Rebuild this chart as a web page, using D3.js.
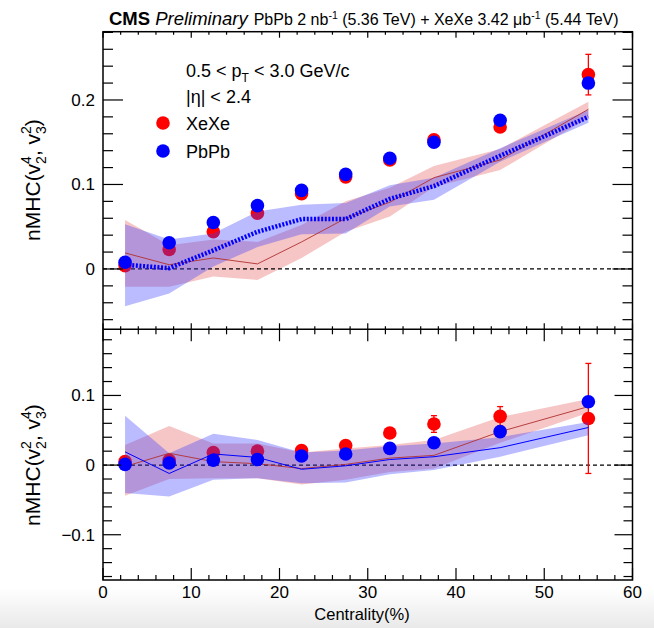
<!DOCTYPE html>
<html><head><meta charset="utf-8">
<script src="https://cdn.jsdelivr.net/npm/d3@7"></script>
<style>
html,body{margin:0;padding:0;background:#fff;}
svg{display:block;font-family:"Liberation Sans",Arial,Helvetica,sans-serif;}
</style></head>
<body>
<svg id="chart" width="654" height="628"></svg>
<script>
// ---------------- DATA ----------------
const centrality = [2.5, 7.5, 12.5, 17.5, 22.5, 27.5, 32.5, 37.5, 45, 55];

// top panel: nMHC(v2^4, v3^2)
const xeTop      = [0.004, 0.023, 0.044, 0.066, 0.089, 0.109, 0.129, 0.153, 0.168, 0.230];
const xeTopErr   = [0.002, 0.002, 0.002, 0.002, 0.002, 0.002, 0.003, 0.003, 0.004, 0.024];
const pbTop      = [0.008, 0.031, 0.055, 0.075, 0.093, 0.112, 0.131, 0.150, 0.176, 0.220];
const xeTopModel = [0.019, 0.005, 0.013, 0.006, 0.032, 0.060, 0.079, 0.108, 0.129, 0.189];
const xeTopLo    = [-0.021, -0.021, -0.009, -0.013, 0.013, 0.044, 0.062, 0.097, 0.117, 0.179];
const xeTopHi    = [0.058, 0.028, 0.035, 0.032, 0.052, 0.080, 0.096, 0.122, 0.142, 0.198];
const pbTopModel = [0.005, 0.001, 0.022, 0.044, 0.059, 0.059, 0.083, 0.098, 0.134, 0.180];
const pbTopLo    = [-0.044, -0.029, 0.003, 0.026, 0.041, 0.042, 0.074, 0.082, 0.127, 0.173];
const pbTopHi    = [0.053, 0.035, 0.042, 0.068, 0.076, 0.078, 0.099, 0.108, 0.143, 0.188];

// bottom panel: nMHC(v2^2, v3^4)
const xeBot      = [0.005, 0.007, 0.018, 0.020, 0.021, 0.028, 0.046, 0.059, 0.070, 0.067];
const xeBotErr   = [0.003, 0.003, 0.003, 0.003, 0.003, 0.004, 0.005, 0.012, 0.014, 0.079];
const pbBot      = [0.001, 0.003, 0.007, 0.008, 0.013, 0.016, 0.024, 0.032, 0.048, 0.091];
const xeBotModel = [-0.002, 0.017, 0.005, 0.002, -0.005, 0.001, 0.010, 0.014, 0.048, 0.084];
const xeBotLo    = [-0.044, -0.020, -0.019, -0.019, -0.028, -0.021, -0.010, -0.005, 0.032, 0.075];
const xeBotHi    = [0.029, 0.056, 0.031, 0.031, 0.018, 0.024, 0.029, 0.036, 0.069, 0.095];
const pbBotModel = [0.019, -0.012, 0.016, 0.011, -0.006, -0.001, 0.008, 0.012, 0.025, 0.054];
const pbBotLo    = [-0.040, -0.045, -0.021, -0.019, -0.026, -0.025, -0.013, -0.007, 0.012, 0.043];
const pbBotHi    = [0.071, 0.017, 0.045, 0.036, 0.018, 0.021, 0.027, 0.031, 0.040, 0.062];

const xTicks = [0, 10, 20, 30, 40, 50, 60];
const topYTicks = [0, 0.1, 0.2];
const botYTicks = [-0.1, 0, 0.1];
const legendLabels = ["XeXe", "PbPb"];

// ---------------- LAYOUT ----------------
const svg = d3.select("#chart");
const L = 103, R = 632.5, T = 31.7, M = 329.3, B = 580;
const RED = "#ff0000", BLUE = "#0000ff";

// bottom grey shading like the screenshot
const defs = svg.append("defs");
const g0 = defs.append("linearGradient").attr("id","bg").attr("x1",0).attr("x2",0).attr("y1",0).attr("y2",1);
g0.append("stop").attr("offset","0%").attr("stop-color","#ffffff");
g0.append("stop").attr("offset","100%").attr("stop-color","#e9e9e9");
svg.append("rect").attr("x",0).attr("y",588).attr("width",654).attr("height",40).attr("fill","url(#bg)");

const x = d3.scaleLinear().domain([0, 60]).range([L, R]);
const yTop = d3.scaleLinear().domain([-0.0714, 0.2808]).range([M, T]);
const yBot = d3.scaleLinear().domain([-0.165, 0.195]).range([B, M]);

function drawPanel(y, d, opts) {
  const g = svg.append("g");
  const idx = d3.range(centrality.length);
  const area = (lo, hi) => d3.area().x(i => x(centrality[i])).y0(i => y(lo[i])).y1(i => y(hi[i]))(idx);
  const line = (v) => d3.line().x(i => x(centrality[i])).y(i => y(v[i]))(idx);

  g.append("path").attr("d", area(d.xeLo, d.xeHi)).attr("fill", "rgba(230,90,90,0.35)");
  g.append("line").attr("x1", L).attr("x2", R).attr("y1", y(0)).attr("y2", y(0))
    .attr("stroke", "#000").attr("stroke-width", 1.2).attr("stroke-dasharray", "4,3");
  idx.forEach(i => {
    const e = d.xeErr[i];
    if (y(d.xe[i] - e) - y(d.xe[i] + e) > 14) {
      g.append("line").attr("x1", x(centrality[i])).attr("x2", x(centrality[i]))
        .attr("y1", y(d.xe[i] - e)).attr("y2", y(d.xe[i] + e)).attr("stroke", RED).attr("stroke-width", 1.3);
      [d.xe[i] - e, d.xe[i] + e].forEach(v => g.append("line")
        .attr("x1", x(centrality[i]) - 3).attr("x2", x(centrality[i]) + 3)
        .attr("y1", y(v)).attr("y2", y(v)).attr("stroke", RED).attr("stroke-width", 1.3));
    }
  });
  g.selectAll(null).data(idx).enter().append("circle")
    .attr("cx", i => x(centrality[i])).attr("cy", i => y(d.xe[i])).attr("r", 6.8).attr("fill", RED);
  g.append("path").attr("d", area(d.pbLo, d.pbHi)).attr("fill", "rgba(60,60,255,0.35)");
  g.append("path").attr("d", line(d.xeModel)).attr("fill", "none").attr("stroke", "#b03030").attr("stroke-width", 0.9);
  if (opts.thickBlue) {
    g.append("path").attr("d", line(d.pbModel)).attr("fill", "none").attr("stroke", BLUE)
      .attr("stroke-width", 4.5).attr("stroke-dasharray", "2,1.6");
  } else {
    g.append("path").attr("d", line(d.pbModel)).attr("fill", "none").attr("stroke", BLUE).attr("stroke-width", 1);
  }
  g.selectAll(null).data(idx).enter().append("circle")
    .attr("cx", i => x(centrality[i])).attr("cy", i => y(d.pb[i])).attr("r", 6.8).attr("fill", BLUE);
}

drawPanel(yTop, {xe: xeTop, xeErr: xeTopErr, pb: pbTop, xeModel: xeTopModel, xeLo: xeTopLo, xeHi: xeTopHi,
  pbModel: pbTopModel, pbLo: pbTopLo, pbHi: pbTopHi}, {thickBlue: true});
drawPanel(yBot, {xe: xeBot, xeErr: xeBotErr, pb: pbBot, xeModel: xeBotModel, xeLo: xeBotLo, xeHi: xeBotHi,
  pbModel: pbBotModel, pbLo: pbBotLo, pbHi: pbBotHi}, {thickBlue: false});

// ---------------- AXES ----------------
const ax = svg.append("g").attr("stroke", "#000").attr("fill", "none");
function hTicks(yLine, dir, majLen, minLen) {
  for (let v = 0; v <= 60; v += 2) {
    const len = (v % 10 === 0) ? majLen : minLen;
    ax.append("line").attr("x1", x(v)).attr("x2", x(v)).attr("y1", yLine).attr("y2", yLine + dir * len).attr("stroke-width", 1.2);
  }
}
function vTicks(y, lo, hi, majLen, minLen) {
  const start = Math.ceil(lo / 0.02 - 1e-6), end = Math.floor(hi / 0.02 + 1e-6);
  for (let k = start; k <= end; k++) {
    const v = k * 0.02;
    const len = (k % 5 === 0) ? majLen : minLen;
    ax.append("line").attr("x1", L).attr("x2", L + len).attr("y1", y(v)).attr("y2", y(v)).attr("stroke-width", 1.2);
    ax.append("line").attr("x1", R).attr("x2", R - len).attr("y1", y(v)).attr("y2", y(v)).attr("stroke-width", 1.2);
  }
}
vTicks(yTop, -0.0714, 0.2808, 20, 10);
vTicks(yBot, -0.165, 0.195, 18, 9);
hTicks(T, 1, 6, 3);
hTicks(M, -1, 6, 3);
hTicks(M, 1, 12, 5);
hTicks(B, -1, 12, 5);
ax.append("rect").attr("x", L).attr("y", T).attr("width", R - L).attr("height", B - T).attr("stroke-width", 1.5);
ax.append("line").attr("x1", L).attr("x2", R).attr("y1", M).attr("y2", M).attr("stroke-width", 1.5);

// tick labels
const tl = svg.append("g").attr("font-size", 17).attr("fill", "#000");
xTicks.forEach(v => tl.append("text").attr("x", x(v)).attr("y", 598).attr("text-anchor", "middle").text(v));
const fmt = v => (v < 0 ? "\u2212" : "") + (v === 0 ? "0" : String(Math.abs(v)));
topYTicks.forEach(v => tl.append("text").attr("x", 95).attr("y", yTop(v) + 6).attr("text-anchor", "end").text(fmt(v)));
botYTicks.forEach(v => tl.append("text").attr("x", 95).attr("y", yBot(v) + 6).attr("text-anchor", "end").text(fmt(v)));

// axis titles
svg.append("text").attr("x", 362).attr("y", 620).attr("text-anchor", "middle").attr("font-size", 16.5).text("Centrality(%)");
function yTitle(cy, supA, subA, supB, subB) {
  const t = svg.append("text").attr("transform", `translate(40,${cy}) rotate(-90)`).attr("text-anchor", "middle").attr("font-size", 21);
  t.append("tspan").text("nMHC(v");
  t.append("tspan").attr("font-size", 14).attr("dy", -9).text(supA);
  t.append("tspan").attr("font-size", 14).attr("dx", -7.8).attr("dy", 15).text(subA);
  t.append("tspan").attr("dy", -6).text(", v");
  t.append("tspan").attr("font-size", 14).attr("dy", -9).text(supB);
  t.append("tspan").attr("font-size", 14).attr("dx", -7.8).attr("dy", 15).text(subB);
  t.append("tspan").attr("dy", -6).text(")");
}
yTitle(180, "4", "2", "2", "3");
yTitle(465, "2", "2", "4", "3");

// title
const title = svg.append("text").attr("x", 109).attr("y", 25);
title.append("tspan").attr("font-weight", "bold").attr("font-size", 18.5).text("CMS");
title.append("tspan").attr("font-style", "italic").attr("font-size", 18.5).attr("dx", 5).text("Preliminary");
title.append("tspan").attr("font-size", 16).attr("dx", 6).text("PbPb 2 nb");
title.append("tspan").attr("font-size", 10.5).attr("dy", -6).text("-1");
title.append("tspan").attr("font-size", 16).attr("dy", 6).text(" (5.36 TeV) + XeXe 3.42 \u03bcb");
title.append("tspan").attr("font-size", 10.5).attr("dy", -6).text("-1");
title.append("tspan").attr("font-size", 16).attr("dy", 6).text(" (5.44 TeV)");

// legend
const lg = svg.append("g").attr("font-size", 18);
const t1 = lg.append("text").attr("x", 186).attr("y", 77);
t1.append("tspan").text("0.5 < p");
t1.append("tspan").attr("font-size", 12).attr("dy", 5).text("T");
t1.append("tspan").attr("dy", -5).text(" < 3.0 GeV/c");
lg.append("text").attr("x", 186).attr("y", 103).text("|\u03b7| < 2.4");
[RED, BLUE].forEach((c, i) => {
  const yy = 123 + i * 28;
  lg.append("circle").attr("cx", 163).attr("cy", yy).attr("r", 6.8).attr("fill", c);
  lg.append("text").attr("x", 186).attr("y", yy + 6.5).text(legendLabels[i]);
});
</script>
</body></html>
